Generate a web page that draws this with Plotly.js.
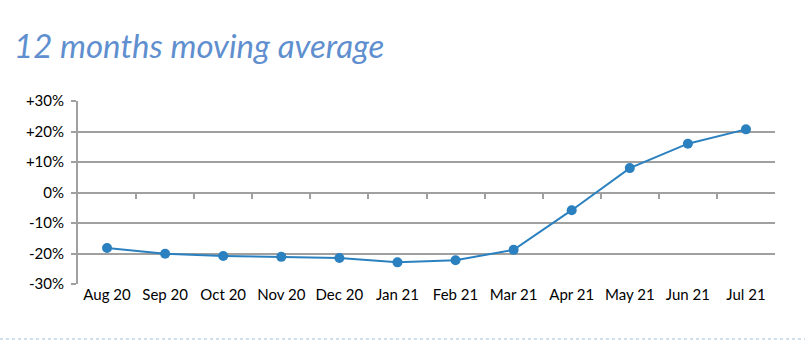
<!DOCTYPE html>
<html>
<head>
<meta charset="utf-8">
<script src="https://cdn.plot.ly/plotly-3.0.1.min.js"></script>
<style>html,body{margin:0;padding:0;background:#fff;}#chart{width:805px;height:361px;}</style>
</head>
<body>
<div id="chart"></div>
<script>
const months = ["Aug 20","Sep 20","Oct 20","Nov 20","Dec 20","Jan 21","Feb 21","Mar 21","Apr 21","May 21","Jun 21","Jul 21"];
const movingAvg = [-18.2, -20.1, -20.8, -21.1, -21.5, -22.9, -22.2, -18.8, -5.8, 8.0, 16.0, 20.7];
const yTickVals = [30, 20, 10, 0, -10, -20, -30];
const yTickText = ["+30%", "+20%", "+10%", "0%", "-10%", "-20%", "-30%"];
const boundaryTicks = months.slice(1).map((m, i) => i + 0.5);

const fontFam = "Lato, Carlito, 'Open Sans', sans-serif";

const trace = {
  x: months.map((m, i) => i),
  y: movingAvg,
  type: "scatter",
  mode: "lines+markers",
  line: {color: "#2b80bf", width: 2},
  marker: {color: "#2b80bf", size: 10},
  hoverinfo: "skip"
};
const tickTrace = {
  x: [0], y: [0], xaxis: "x2", type: "scatter", mode: "markers",
  marker: {opacity: 0}, hoverinfo: "skip", showlegend: false
};

const layout = {
  width: 805, height: 361,
  margin: {l: 78, r: 30, t: 101, b: 77},
  paper_bgcolor: "#ffffff",
  plot_bgcolor: "#ffffff",
  showlegend: false,
  title: {
    text: "<i>12 months moving average</i>",
    font: {family: fontFam, size: 33, color: "#5f8fcf"},
    x: 14/805, xanchor: "left", xref: "container",
    y: 1 - 46/361, yanchor: "middle", yref: "container"
  },
  xaxis: {
    range: [-0.5, 11.5],
    tickvals: months.map((m, i) => i),
    ticktext: months,
    showgrid: false, zeroline: false, showline: false,
    ticks: "",
    tickfont: {family: fontFam, size: 15, color: "#000"},
    fixedrange: true
  },
  xaxis2: {
    overlaying: "x", anchor: "free", position: 0.5, side: "bottom",
    range: [-0.5, 11.5],
    tickvals: boundaryTicks,
    showticklabels: false, showgrid: false, zeroline: false, showline: false,
    ticks: "outside", ticklen: 5, tickwidth: 2, tickcolor: "#a0a0a0",
    fixedrange: true
  },
  yaxis: {
    range: [-30, 30],
    tickvals: yTickVals,
    ticktext: yTickText,
    showgrid: true, gridcolor: "#a0a0a0", gridwidth: 2,
    zeroline: false,
    showline: true, linecolor: "#a0a0a0", linewidth: 2,
    ticks: "outside", ticklen: 5, tickwidth: 2, tickcolor: "#a0a0a0",
    ticklabelstandoff: 4,
    tickfont: {family: fontFam, size: 15, color: "#000"},
    fixedrange: true
  },
  shapes: [{
    type: "line", xref: "paper", yref: "paper",
    x0: -78/697, x1: 1 + 30/697, y0: -55/183, y1: -55/183,
    line: {color: "#9fc0d8", width: 1, dash: "dot"}
  }]
};

Plotly.newPlot("chart", [trace, tickTrace], layout, {displayModeBar: false, staticPlot: true});
</script>
</body>
</html>
